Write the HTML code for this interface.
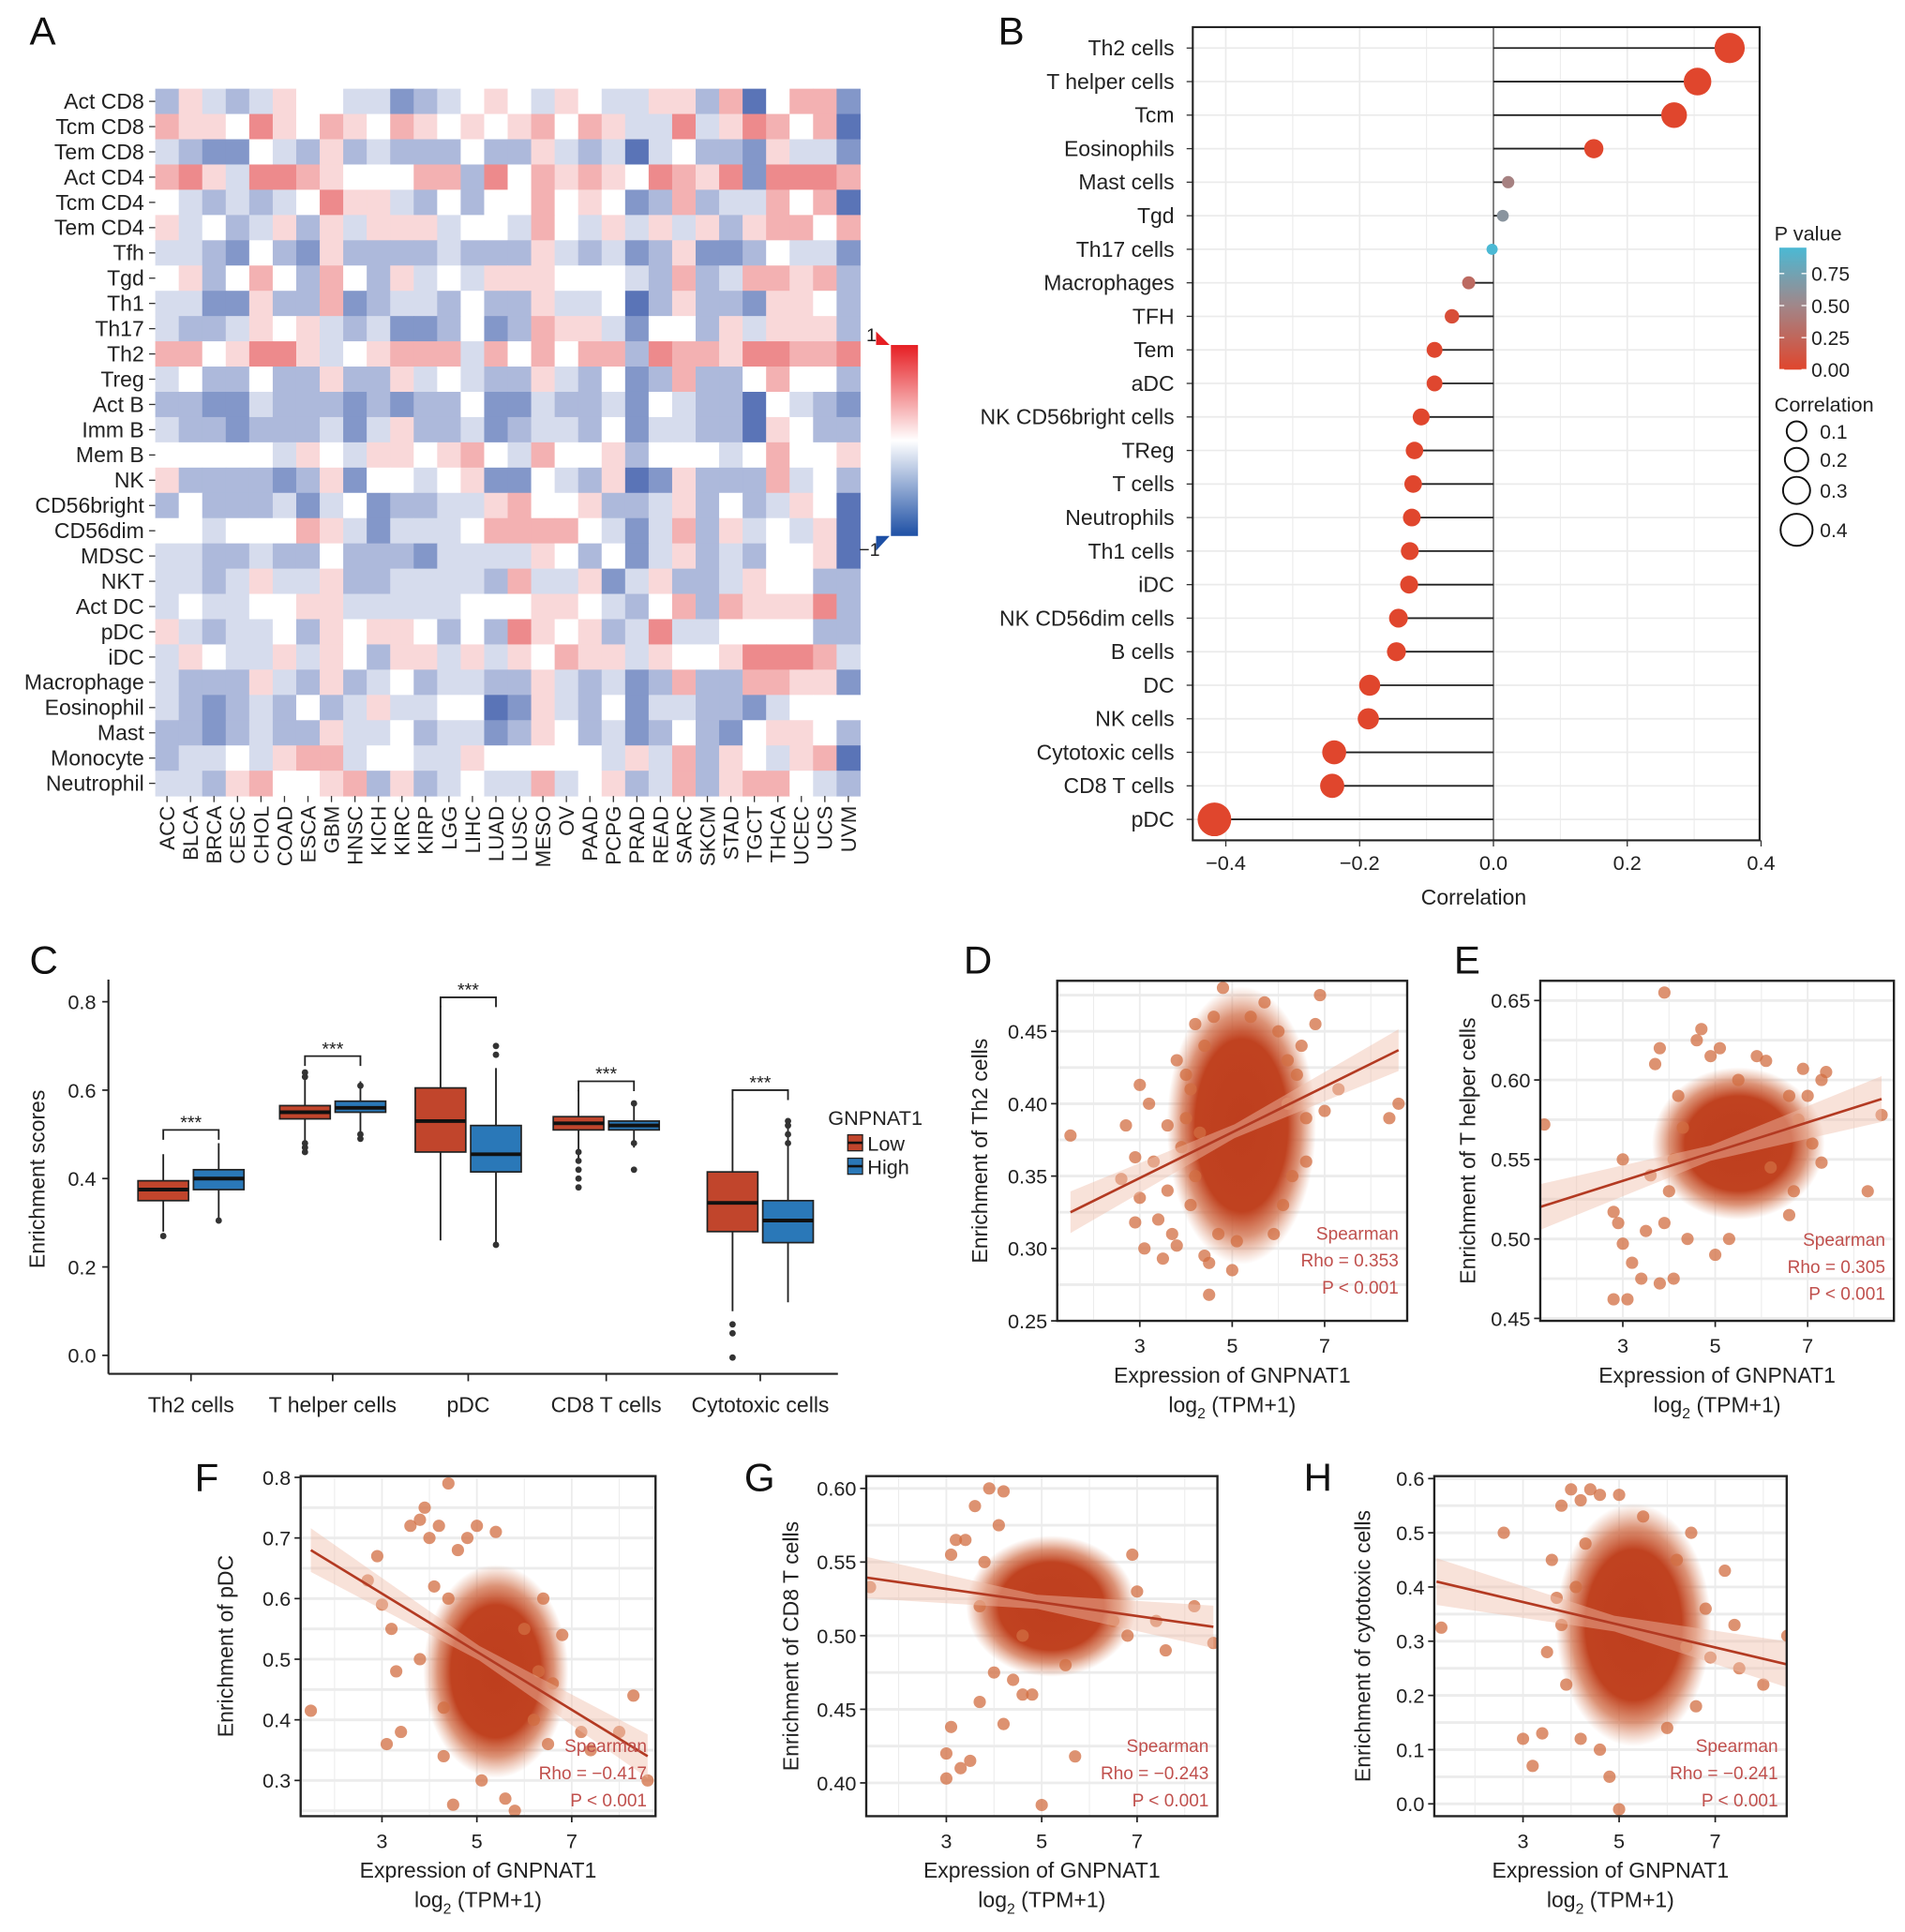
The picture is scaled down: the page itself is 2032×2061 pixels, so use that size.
<!DOCTYPE html>
<html><head><meta charset="utf-8"><style>
html,body{margin:0;padding:0;background:#fff;}
svg{display:block;font-family:"Liberation Sans",Arial,sans-serif;}
</style></head><body>
<svg id="fig" xmlns="http://www.w3.org/2000/svg" width="2032" height="2061" viewBox="0 0 1546 1568" preserveAspectRatio="none">
<defs>
<radialGradient id="haloGrad" cx="0.5" cy="0.5" r="0.5">
<stop offset="0" stop-color="rgb(190,62,30)" stop-opacity="1"/>
<stop offset="0.62" stop-color="rgb(192,66,32)" stop-opacity="1"/>
<stop offset="0.8" stop-color="rgb(205,100,60)" stop-opacity="0.7"/>
<stop offset="1" stop-color="rgb(215,125,85)" stop-opacity="0"/>
</radialGradient>
</defs>
<rect x="0" y="0" width="1546" height="1568" fill="#fff"/>
<g id="gA"></g>
<g id="gB"></g>
<g id="gC"></g>
<g id="gD"></g>
<g id="gE"></g>
<g id="gF"></g>
<g id="gG"></g>
<g id="gH"></g>
</svg>
<script>
// ---------- Panel A data ----------
const heatRows = ["Act CD8","Tcm CD8","Tem CD8","Act CD4","Tcm CD4","Tem CD4","Tfh","Tgd","Th1","Th17","Th2","Treg","Act B","Imm B","Mem B","NK","CD56bright","CD56dim","MDSC","NKT","Act DC","pDC","iDC","Macrophage","Eosinophil","Mast","Monocyte","Neutrophil"];
const heatCols = ["ACC","BLCA","BRCA","CESC","CHOL","COAD","ESCA","GBM","HNSC","KICH","KIRC","KIRP","LGG","LIHC","LUAD","LUSC","MESO","OV","PAAD","PCPG","PRAD","READ","SARC","SKCM","STAD","TGCT","THCA","UCEC","UCS","UVM"];
// codes a..i => -4..+4 (scaled /5)
const heatCodes = [
"cfdcdfeeddbcdefedfeddffcgaeggb",
"gffehfegfegfefefgegfddhdfhgega",
"dcbbedcfcdccceccfdcdadeccbfddb",
"ghfdhhgfeeeggchegfgfehgfhbhhhg",
"edcdcdehffdceceegefebcgcddgega",
"fdecdfcfdfffdeedgedfdfdfcfggeg",
"ddcbecbfccccdcccfdcdbcfbbceddb",
"efcegecgecfdedfffeeedcgcdggfgc",
"ddbbfccgbcddceccfddeacfccbffec",
"dccdfefdcdbbcebcgffdbeecfdfffc",
"ggefhhfdefgggdgegeggchggfhhggh",
"deccecc fccfdedccfdcebcgccegeec".replace(/ /g,""),
"ccbbdcccbcbccebbdccdbedccaedcb",
"dccbcccdbdfccdbcddcebddccafecc",
"eeeeedfedffefgedgeefceeedegeef",
"fccccbcfbeedefbbedcfabfcccgdec",
"cecccdbdebccddfgeefccdfcecdfea",
"eedeeegfdbdddeggggedbdgcfdedfa",
"ddccdccecccbddddfecebdfcdceefa",
"ddcdfddfccddddcgddfbdfccdfeecc",
"deddeeffdddddeeeffedcegcgfffhc",
"fdcddecfeffecechfefcdhddeeeecc",
"dfeddfdfecffdfdfegffdfeefhhhgd",
"dcccfdcfcdecddccfdcdbcgccggffb",
"dcbcdcecdfddeeabfdcebddccbdeee",
"ccbcdccfddecddbcfecdbcecbeffec",
"cddedfggdeeddfeeeeedfdgcfedfga",
"ddcfgeefgcfcdeddgdefcdgcfggedc"
];

// ---------- Panel B data ----------
const lolCells = ["Th2 cells","T helper cells","Tcm","Eosinophils","Mast cells","Tgd","Th17 cells","Macrophages","TFH","Tem","aDC","NK CD56bright cells","TReg","T cells","Neutrophils","Th1 cells","iDC","NK CD56dim cells","B cells","DC","NK cells","Cytotoxic cells","CD8 T cells","pDC"];
const lolCorr = [0.353,0.305,0.27,0.15,0.022,0.014,-0.002,-0.037,-0.062,-0.088,-0.088,-0.108,-0.118,-0.12,-0.122,-0.125,-0.126,-0.142,-0.145,-0.185,-0.187,-0.238,-0.241,-0.417];
const lolP = [0,0,0,0,0.45,0.62,0.95,0.28,0.06,0.01,0.01,0,0,0,0,0,0,0,0,0,0,0,0,0];
const lolXTicks = [-0.4,-0.2,0.0,0.2,0.4];
const lolXTickLabels = ["\u22120.4","\u22120.2","0.0","0.2","0.4"];

// ---------- Panel C data ----------
const boxGroups = ["Th2 cells","T helper cells","pDC","CD8 T cells","Cytotoxic cells"];
const lowQ1 = [0.35,0.535,0.46,0.51,0.28];
const lowMed = [0.375,0.55,0.53,0.525,0.345];
const lowQ3 = [0.395,0.565,0.605,0.54,0.415];
const lowLo = [0.28,0.47,0.26,0.44,0.10];
const lowHi = [0.455,0.63,0.79,0.60,0.58];
const highQ1 = [0.375,0.55,0.415,0.51,0.255];
const highMed = [0.40,0.56,0.455,0.52,0.305];
const highQ3 = [0.42,0.575,0.52,0.53,0.35];
const highLo = [0.31,0.50,0.25,0.47,0.12];
const highHi = [0.48,0.62,0.65,0.57,0.53];
const lowOut = [[0.27],[0.46,0.47,0.48,0.63,0.64],[],[0.38,0.40,0.42,0.44,0.46],[0.07,0.05,-0.005]];
const highOut = [[0.305],[0.49,0.50,0.61],[0.68,0.70,0.25],[0.42,0.48,0.57],[0.48,0.50,0.52,0.53]];
const bracketY = [0.51,0.677,0.81,0.62,0.60];
const boxYTicks = [0.0,0.2,0.4,0.6,0.8];

// ---------- Scatter data ----------
const dX = [1.5,2.6,2.7,2.9,2.9,3.0,3.0,3.1,3.2,3.3,3.4,3.5,3.6,3.7,3.8,3.8,4.0,4.1,4.2,4.3,4.4,4.5,4.5,4.6,4.7,4.8,5.0,5.1,5.4,5.7,6.0,6.2,6.4,6.6,6.6,6.8,6.9,7.0,7.3,8.4,8.6,5.9,6.1,6.3,4.2,4.0,3.9,4.1,6.5,6.2,4.4,3.6];
const dY = [0.378,0.348,0.385,0.363,0.318,0.413,0.335,0.30,0.40,0.36,0.32,0.293,0.34,0.31,0.43,0.302,0.42,0.33,0.455,0.38,0.295,0.268,0.29,0.46,0.31,0.48,0.285,0.305,0.46,0.47,0.45,0.43,0.42,0.39,0.36,0.455,0.475,0.395,0.41,0.39,0.40,0.31,0.33,0.35,0.35,0.39,0.37,0.41,0.44,0.40,0.44,0.385];
const eX = [1.3,2.8,2.9,2.8,3.1,3.0,3.0,3.2,3.4,3.5,3.6,3.7,3.8,3.8,3.9,4.1,4.2,4.4,4.6,4.7,4.9,5.1,5.0,5.3,5.5,5.9,6.1,6.6,6.6,6.9,7.0,7.3,7.4,7.3,7.1,8.3,8.6,6.2,4.0,3.9,4.3,6.8,4.1,6.7];
const eY = [0.572,0.517,0.51,0.462,0.462,0.497,0.55,0.485,0.475,0.505,0.54,0.61,0.62,0.472,0.655,0.475,0.59,0.50,0.625,0.632,0.615,0.62,0.49,0.50,0.60,0.615,0.612,0.515,0.59,0.607,0.59,0.60,0.605,0.548,0.56,0.53,0.578,0.545,0.53,0.51,0.57,0.575,0.55,0.53];
const fX = [1.5,2.7,2.9,3.0,3.1,3.2,3.3,3.4,3.6,3.8,3.9,4.0,4.2,4.4,4.3,4.5,4.6,4.8,5.0,5.4,5.1,5.6,5.8,6.2,6.6,6.8,7.2,7.4,8.0,8.3,8.6,4.1,3.8,6.0,6.4,4.4,6.3,4.3,6.5];
const fY = [0.415,0.63,0.67,0.59,0.36,0.55,0.48,0.38,0.72,0.73,0.75,0.70,0.72,0.79,0.34,0.26,0.68,0.70,0.72,0.71,0.30,0.27,0.25,0.40,0.46,0.54,0.38,0.35,0.38,0.44,0.30,0.62,0.50,0.55,0.60,0.60,0.48,0.42,0.36];
const gX = [1.4,3.0,3.1,3.0,3.3,3.5,3.4,3.6,3.7,3.9,4.2,4.6,5.0,4.6,4.2,4.8,5.7,6.9,7.4,8.2,8.6,3.2,3.1,4.0,4.4,6.5,7.0,7.6,5.5,3.8,3.7,6.8,4.1];
const gY = [0.533,0.403,0.438,0.42,0.41,0.415,0.565,0.588,0.455,0.60,0.598,0.50,0.385,0.46,0.44,0.46,0.418,0.555,0.51,0.52,0.495,0.565,0.555,0.475,0.47,0.51,0.53,0.49,0.48,0.55,0.52,0.50,0.575];
const hX = [1.3,2.6,3.0,3.2,3.4,3.5,3.6,3.8,3.8,4.0,4.2,4.4,4.6,5.0,4.6,4.8,5.0,4.2,4.1,5.5,6.2,6.5,6.8,7.2,7.4,7.5,8.0,8.5,8.6,6.0,3.9,6.6,3.7,6.4,4.3,6.9];
const hY = [0.325,0.50,0.12,0.07,0.13,0.28,0.45,0.33,0.55,0.58,0.56,0.58,0.57,0.57,0.10,0.05,-0.01,0.12,0.40,0.53,0.45,0.50,0.36,0.43,0.33,0.25,0.22,0.31,0.20,0.14,0.22,0.18,0.38,0.29,0.48,0.27];
const dCore = [5.2,0.385,0.95,0.06];
const eCore = [5.5,0.56,1.1,0.03];
const fCore = [5.4,0.48,0.9,0.11];
const gCore = [5.2,0.52,1.05,0.03];
const hCore = [5.3,0.33,0.95,0.14];
const dFit = [1.5,0.325,8.6,0.437];
const eFit = [1.2,0.52,8.6,0.588];
const fFit = [1.5,0.68,8.6,0.34];
const gFit = [1.2,0.54,8.6,0.506];
const hFit = [1.2,0.41,8.6,0.255];
const xTicksExpr = [3,5,7];
const dYTicks = [0.25,0.30,0.35,0.40,0.45];
const eYTicks = [0.45,0.50,0.55,0.60,0.65];
const fYTicks = [0.3,0.4,0.5,0.6,0.7,0.8];
const gYTicks = [0.40,0.45,0.50,0.55,0.60];
const hYTicks = [0.0,0.1,0.2,0.3,0.4,0.5,0.6];
const dStats = ["Spearman","Rho = 0.353","P < 0.001"];
const eStats = ["Spearman","Rho = 0.305","P < 0.001"];
const fStats = ["Spearman","Rho = \u22120.417","P < 0.001"];
const gStats = ["Spearman","Rho = \u22120.243","P < 0.001"];
const hStats = ["Spearman","Rho = \u22120.241","P < 0.001"];

const NS = "http://www.w3.org/2000/svg";
function el(tag, parent, attrs){ const e=document.createElementNS(NS,tag); for(const k in attrs) e.setAttribute(k,attrs[k]); parent.appendChild(e); return e; }
function txt(parent, x, y, s, size, anchor, extra){ const t=el("text",parent,Object.assign({x:x,y:y,"font-size":size,"text-anchor":anchor||"start",fill:"#222"},extra||{})); t.textContent=s; return t; }
function fmt(v,d){ return v.toFixed(d); }
function lerp(a,b,t){ return a+(b-a)*t; }
function mix(c1,c2,t){ return "rgb("+Math.round(lerp(c1[0],c2[0],t))+","+Math.round(lerp(c1[1],c2[1],t))+","+Math.round(lerp(c1[2],c2[2],t))+")"; }

const fig=document.getElementById("fig");
[["A",24,36],["B",810,36],["C",24,790],["D",782,790],["E",1180,790],["F",158,1210],["G",604,1210],["H",1058,1210]].forEach(p=>{
  const t=txt(fig,p[1],p[2],p[0],32,"start",{fill:"#111"});
  
  
});

// ---------- Panel A ----------
(function(){
  const g=document.getElementById("gA");
  const x0=126,x1=698,y0=72,y1=646;
  const cw=(x1-x0)/heatCols.length, ch=(y1-y0)/heatRows.length;
  const red=[222,38,42], blue=[38,72,160], white=[255,255,255];
  function col(v){ return v>=0?mix(white,red,v*0.9):mix(white,blue,-v*0.95); }
  heatRows.forEach((r,i)=>{
    const codes=heatCodes[i];
    heatCols.forEach((c,j)=>{
      const code=(codes.charCodeAt(j)||101)-101;
      const v=Math.max(-4,Math.min(4,code))/5;
      const rc=el("rect",g,{x:x0+j*cw,y:y0+i*ch,width:cw+0.4,height:ch+0.4,fill:col(v)});
      
      
    });
    const t=txt(g,x0-9,y0+i*ch+ch/2+6,r,17.5,"end");
    
    
    el("line",g,{x1:x0-5,x2:x0,y1:y0+i*ch+ch/2,y2:y0+i*ch+ch/2,stroke:"#333","stroke-width":1});
  });
  heatCols.forEach((c,j)=>{
    const cx=x0+j*cw+cw/2;
    el("line",g,{x1:cx,x2:cx,y1:y1,y2:y1+5,stroke:"#333","stroke-width":1});
    const t=txt(g,0,0,c,17,"end",{transform:"translate("+(cx+6)+","+(y1+8)+") rotate(-90)"});
    
    
  });
  const defs=el("defs",g,{});
  const lg=el("linearGradient",defs,{id:"cbar",x1:0,y1:0,x2:0,y2:1});
  el("stop",lg,{offset:"0",  "stop-color":"rgb(230,30,35)"});
  el("stop",lg,{offset:"0.5","stop-color":"#fff"});
  el("stop",lg,{offset:"1",  "stop-color":"rgb(30,80,165)"});
  const cb=el("rect",g,{x:723,y:280,width:22,height:155,fill:"url(#cbar)"});
  
  
  el("polygon",g,{points:"711,269 711,280 722,280",fill:"rgb(230,30,35)"});
  el("polygon",g,{points:"711,447 711,435 722,435",fill:"rgb(30,80,165)"});
  txt(g,703,277,"1",15,"start");
  txt(g,697,451,"\u22121",15,"start");
})();

// ---------- Panel B ----------
(function(){
  const g=document.getElementById("gB");
  const L=968,R=1428,T=22,Bt=682;
  const xs=v=>1212+v*543;
  const y0=39, dy=(665-39)/(lolCells.length-1);
  const ys=i=>y0+i*dy;
  for(let v=-0.4; v<=0.41; v+=0.1){ el("line",g,{x1:xs(v),x2:xs(v),y1:T,y2:Bt,stroke:"#ebebeb","stroke-width":Math.abs(Math.round(v*10))%2===0?1.3:0.8}); }
  lolCells.forEach((c,i)=>{ el("line",g,{x1:L,x2:R,y1:ys(i),y2:ys(i),stroke:"#ebebeb","stroke-width":1.3}); });
  el("line",g,{x1:xs(0),x2:xs(0),y1:T,y2:Bt,stroke:"#666","stroke-width":1.2});
  const lo=[224,70,45], mid=[160,135,138], hi=[75,185,212];
  function pc(p){ return p<=0.5?mix(lo,mid,p/0.5):mix(mid,hi,Math.min(1,(p-0.5)/0.45)); }
  lolCells.forEach((c,i)=>{
    const y=ys(i), v=lolCorr[i];
    const ln=el("line",g,{x1:xs(0),x2:xs(v),y1:y,y2:y,stroke:"#222","stroke-width":1.4});
    
    
    const r=4.5+22*Math.abs(v);
    const d=el("circle",g,{cx:xs(v),cy:y,r:r,fill:pc(lolP[i])});
    
    
    const t=txt(g,L-15,y+6,c,17.5,"end");
    
    
    el("line",g,{x1:L-5,x2:L,y1:y,y2:y,stroke:"#333"});
  });
  el("rect",g,{x:L,y:T,width:R-L,height:Bt-T,fill:"none",stroke:"#222","stroke-width":1.6});
  lolXTicks.forEach((v,k)=>{
    el("line",g,{x1:xs(v),x2:xs(v),y1:Bt,y2:Bt+5,stroke:"#333"});
    const t=txt(g,xs(v),Bt+24,lolXTickLabels[k],16.5,"middle");
    
    
  });
  const xt=txt(g,1196,734,"Correlation",17.5,"middle");
  
  
  const defs=el("defs",g,{});
  const lg=el("linearGradient",defs,{id:"pbar",x1:0,y1:0,x2:0,y2:1});
  el("stop",lg,{offset:"0","stop-color":"rgb(75,185,212)"});
  el("stop",lg,{offset:"0.47","stop-color":"rgb(160,135,138)"});
  el("stop",lg,{offset:"1","stop-color":"rgb(224,70,45)"});
  txt(g,1440,195,"P value",16.5,"start");
  const pb=el("rect",g,{x:1444,y:201,width:22,height:99,fill:"url(#pbar)"});
  
  
  [["0.75",222],["0.50",248],["0.25",274],["0.00",300]].forEach(a=>{ txt(g,1470,a[1]+6,a[0],16,"start"); el("line",g,{x1:1444,x2:1448,y1:a[1],y2:a[1],stroke:"#fff"});el("line",g,{x1:1462,x2:1466,y1:a[1],y2:a[1],stroke:"#fff"}); });
  txt(g,1440,334,"Correlation",16.5,"start");
  [["0.1",350,8],["0.2",373,9.5],["0.3",398,11],["0.4",430,13]].forEach(a=>{
    const c=el("circle",g,{cx:1458,cy:a[1],r:a[2],fill:"none",stroke:"#111","stroke-width":1.5});
    
    
    txt(g,1477,a[1]+6,a[0],16,"start");
  });
})();

// ---------- Panel C ----------
(function(){
  const g=document.getElementById("gC");
  const ys=v=>1100-v*358.75;
  const gx=[155,270,380,492,617];
  const lowC="#c1452c", highC="#2a78b8";
  el("line",g,{x1:88,x2:88,y1:795,y2:1115,stroke:"#222","stroke-width":1.6});
  el("line",g,{x1:88,x2:680,y1:1115,y2:1115,stroke:"#222","stroke-width":1.6});
  boxYTicks.forEach(v=>{
    el("line",g,{x1:83,x2:88,y1:ys(v),y2:ys(v),stroke:"#222","stroke-width":1.3});
    const t=txt(g,78,ys(v)+6,fmt(v,1),16.5,"end");
    
    
  });
  const yt=txt(g,0,0,"Enrichment scores",17.5,"middle",{transform:"translate(36,957) rotate(-90)"});
  
  
  function box(cx,q1,md,q3,lo,hi,outs,color,name){
    const w=41;
    el("line",g,{x1:cx,x2:cx,y1:ys(hi),y2:ys(lo),stroke:"#222","stroke-width":1.4});
    const b=el("rect",g,{x:cx-w/2,y:ys(q3),width:w,height:ys(q1)-ys(q3),fill:color,stroke:"#222","stroke-width":1.3});
    
    
    el("line",g,{x1:cx-w/2,x2:cx+w/2,y1:ys(md),y2:ys(md),stroke:"#111","stroke-width":3});
    outs.forEach(o=>{ const c=el("circle",g,{cx:cx,cy:ys(o),r:2.6,fill:"#333"});   });
  }
  boxGroups.forEach((name,i)=>{
    box(gx[i]-22.5,lowQ1[i],lowMed[i],lowQ3[i],lowLo[i],lowHi[i],lowOut[i],lowC,"box-low");
    box(gx[i]+22.5,highQ1[i],highMed[i],highQ3[i],highLo[i],highHi[i],highOut[i],highC,"box-high");
    const by=ys(bracketY[i]);
    el("polyline",g,{points:(gx[i]-22.5)+","+(by+8)+" "+(gx[i]-22.5)+","+by+" "+(gx[i]+22.5)+","+by+" "+(gx[i]+22.5)+","+(by+8),fill:"none",stroke:"#222","stroke-width":1.4});
    txt(g,gx[i],by-1,"***",15,"middle");
    el("line",g,{x1:gx[i],x2:gx[i],y1:1115,y2:1121,stroke:"#222","stroke-width":1.3});
    const t=txt(g,gx[i],1146,name,17.5,"middle");
    
    
  });
  txt(g,672,913,"GNPNAT1",16.5,"start");
  const l1=el("rect",g,{x:688,y:921,width:12,height:13,fill:lowC,stroke:"#222"});
   
  el("line",g,{x1:688,x2:700,y1:927.5,y2:927.5,stroke:"#111","stroke-width":2});
  txt(g,704,934,"Low",16.5,"start");
  const l2=el("rect",g,{x:688,y:940,width:12,height:13,fill:highC,stroke:"#222"});
   
  el("line",g,{x1:688,x2:700,y1:946.5,y2:946.5,stroke:"#111","stroke-width":2});
  txt(g,704,953,"High",16.5,"start");
})();

// ---------- Scatter panels ----------
function scatter(id,cfg,px,py,core,fit,yTicks,yDec,stats,ylabel){
  const g=document.getElementById(id);
  const xs=v=>cfg.x3+(v-3)*cfg.xu;
  const ys=v=>cfg.yA+(v-cfg.vA)*(cfg.yB-cfg.yA)/(cfg.vB-cfg.vA);
  const L=cfg.L,R=cfg.R,T=cfg.T,B=cfg.B;
  const cp=el("clipPath",g,{id:id+"clip"}); el("rect",cp,{x:L,y:T,width:R-L,height:B-T});
  const inner=el("g",g,{"clip-path":"url(#"+id+"clip)"});
  for(let v=2; v<=8; v+=1){ el("line",inner,{x1:xs(v),x2:xs(v),y1:T,y2:B,stroke:"#ececec","stroke-width":v%2?1.4:0.8}); }
  const step=yTicks[1]-yTicks[0];
  for(let v=yTicks[0]-step; v<=yTicks[yTicks.length-1]+step; v+=step/2){ el("line",inner,{x1:L,x2:R,y1:ys(v),y2:ys(v),stroke:"#ececec","stroke-width":2.2}); }
  const dotC="rgba(210,110,65,0.75)";
  const ryPx=Math.abs(ys(core[1]+core[3])-ys(core[1]));
  const halo=el("ellipse",inner,{cx:xs(core[0]),cy:ys(core[1]),rx:core[2]*cfg.xu*1.7,ry:ryPx*1.6,fill:"url(#haloGrad)"});
  
  
  px.forEach((x,i)=>{
    const c=el("circle",inner,{cx:xs(x),cy:ys(py[i]),r:5,fill:dotC});
    
    
  });
  const bw=0.012*(cfg.vB-cfg.vA)*4;
  const pts=[[fit[0],fit[1]+bw*1.5],[(fit[0]+fit[2])/2,(fit[1]+fit[3])/2+bw*0.5],[fit[2],fit[3]+bw*1.5],[fit[2],fit[3]-bw*1.5],[(fit[0]+fit[2])/2,(fit[1]+fit[3])/2-bw*0.5],[fit[0],fit[1]-bw*1.5]];
  el("polygon",inner,{points:pts.map(p=>xs(p[0])+","+ys(p[1])).join(" "),fill:"rgba(240,190,170,0.45)"});
  const fl=el("line",inner,{x1:xs(fit[0]),y1:ys(fit[1]),x2:xs(fit[2]),y2:ys(fit[3]),stroke:"#b33a22","stroke-width":2});
  
  
  el("rect",g,{x:L,y:T,width:R-L,height:B-T,fill:"none",stroke:"#222","stroke-width":1.8});
  yTicks.forEach(v=>{
    el("line",g,{x1:L-5,x2:L,y1:ys(v),y2:ys(v),stroke:"#222","stroke-width":1.3});
    const t=txt(g,L-8,ys(v)+6,fmt(v,yDec),16.5,"end");
    
    
  });
  xTicksExpr.forEach(v=>{
    el("line",g,{x1:xs(v),x2:xs(v),y1:B,y2:B+5,stroke:"#222","stroke-width":1.3});
    const t=txt(g,xs(v),B+26,String(v),16.5,"middle");
    
    
  });
  stats.forEach((s,k)=>{ const t=txt(g,R-7,cfg.sy+k*22,s,14.5,"end",{fill:"#c0504d"});   });
  const cx=(L+R)/2;
  const x1=txt(g,cx,B+50,"Expression of GNPNAT1",17.5,"middle");
   
  const x2=el("text",g,{x:cx,y:B+74,"font-size":17.5,"text-anchor":"middle",fill:"#222"});
  x2.innerHTML='log<tspan font-size="12" dy="5">2</tspan><tspan dy="-5"> (TPM+1)</tspan>';
   
  const yl=txt(g,0,0,ylabel,17.5,"middle",{transform:"translate("+cfg.ylx+","+((T+B)/2)+") rotate(-90)"});
   
}
scatter("gD",{L:858,R:1142,T:796,B:1072,x3:925,xu:37.5,yA:837,vA:0.45,yB:1072,vB:0.25,sy:1006,ylx:801},dX,dY,dCore,dFit,dYTicks,2,dStats,"Enrichment of Th2 cells");
scatter("gE",{L:1250,R:1537,T:796,B:1072,x3:1317,xu:37.5,yA:812,vA:0.65,yB:1070,vB:0.45,sy:1011,ylx:1197},eX,eY,eCore,eFit,eYTicks,2,eStats,"Enrichment of T helper cells");
scatter("gF",{L:244,R:532,T:1198,B:1474,x3:310,xu:38.5,yA:1199,vA:0.8,yB:1445,vB:0.3,sy:1422,ylx:189},fX,fY,fCore,fFit,fYTicks,1,fStats,"Enrichment of pDC");
scatter("gG",{L:703,R:988,T:1198,B:1474,x3:768,xu:38.7,yA:1208,vA:0.60,yB:1447,vB:0.40,sy:1422,ylx:648},gX,gY,gCore,gFit,gYTicks,2,gStats,"Enrichment of CD8 T cells");
scatter("gH",{L:1164,R:1450,T:1198,B:1474,x3:1236,xu:39,yA:1200,vA:0.6,yB:1464,vB:0.0,sy:1422,ylx:1112},hX,hY,hCore,hFit,hYTicks,1,hStats,"Enrichment of cytotoxic cells");
</script>
</body></html>
